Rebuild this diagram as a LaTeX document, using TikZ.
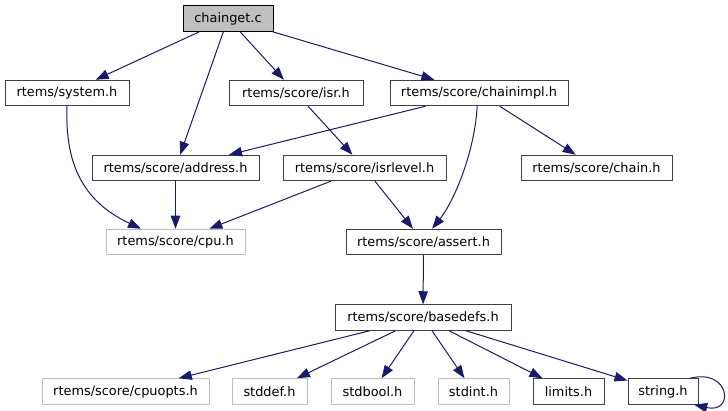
\documentclass[tikz,border=0pt]{standalone}
\usepackage{fontspec}
\setmainfont{DejaVu Sans}
\usetikzlibrary{arrows.meta}
\definecolor{edgeblue}{RGB}{25,25,112}
\definecolor{grayfill}{RGB}{191,191,191}
\definecolor{darkborder}{RGB}{64,64,64}
\definecolor{lightborder}{RGB}{191,191,191}
\tikzset{
  filebox/.style={draw=darkborder, line width=1pt, fill=white, inner sep=0pt, minimum height=25.5pt, font=\fontsize{12.9}{15}\selectfont, text=black},
  extbox/.style={filebox, draw=lightborder},
  rootbox/.style={filebox, draw=black, fill=grayfill},
  dep/.style={draw=edgeblue, line width=1pt, -{Triangle[length=13pt,width=9.5pt]}, fill=none},
}
\begin{document}
\begin{tikzpicture}[x=1pt,y=-1pt]
\useasboundingbox (0,0) rectangle (728,411);
\node[rootbox, minimum width=90pt] (chainget) at (228,18.5) {chainget.c};
\node[filebox, minimum width=124pt] (system) at (67,93) {rtems/system.h};
\node[filebox, minimum width=134pt] (isr) at (296,93) {rtems/score/isr.h};
\node[filebox, minimum width=178pt] (chainimpl) at (479,93) {rtems/score/chainimpl.h};
\node[filebox, minimum width=167pt] (address) at (175.5,168) {rtems/score/address.h};
\node[filebox, minimum width=163pt] (isrlevel) at (364.5,168) {rtems/score/isrlevel.h};
\node[filebox, minimum width=151pt] (chain) at (596.5,168) {rtems/score/chain.h};
\node[extbox, minimum width=139pt] (cpu) at (175.5,242) {rtems/score/cpu.h};
\node[filebox, minimum width=155pt] (assert) at (423.5,242) {rtems/score/assert.h};
\node[filebox, minimum width=176pt] (basedefs) at (423,317.5) {rtems/score/basedefs.h};
\node[extbox, minimum width=167pt] (cpuopts) at (125.5,391.5) {rtems/score/cpuopts.h};
\node[extbox, minimum width=75pt] (stddef) at (269.5,391.5) {stddef.h};
\node[extbox, minimum width=83pt] (stdbool) at (372.5,391.5) {stdbool.h};
\node[extbox, minimum width=71pt] (stdint) at (473.5,391.5) {stdint.h};
\node[filebox, minimum width=71pt] (limits) at (568.5,391.5) {limits.h};
\node[filebox, minimum width=70pt] (string) at (663,391.5) {string.h};

\draw[dep] (chainget) -- (system);
\draw[dep] (chainget) -- (address);
\draw[dep] (chainget) -- (isr);
\draw[dep] (chainget) -- (chainimpl);
\draw[dep] (system.south) .. controls (65,160) and (80,200) .. (cpu.159);
\draw[dep] (isr) -- (isrlevel);
\draw[dep] (chainimpl) -- (address);
\draw[dep] (chainimpl.262) .. controls (475,150) and (455,200) .. (assert.57);
\draw[dep] (chainimpl) -- (chain);
\draw[dep] (address) -- (cpu);
\draw[dep] (isrlevel) -- (cpu);
\draw[dep] (isrlevel) -- (assert);
\draw[dep] (assert) -- (basedefs);
\draw[dep] (basedefs) -- (cpuopts);
\draw[dep] (basedefs) -- (stddef);
\draw[dep] (basedefs) -- (stdbool);
\draw[dep] (basedefs) -- (stdint);
\draw[dep] (basedefs) -- (limits);
\draw[dep] (basedefs) -- (string);
\draw[dep] (string.26) .. controls (730,368) and (735,414) .. (string.-23);
\end{tikzpicture}
\end{document}
